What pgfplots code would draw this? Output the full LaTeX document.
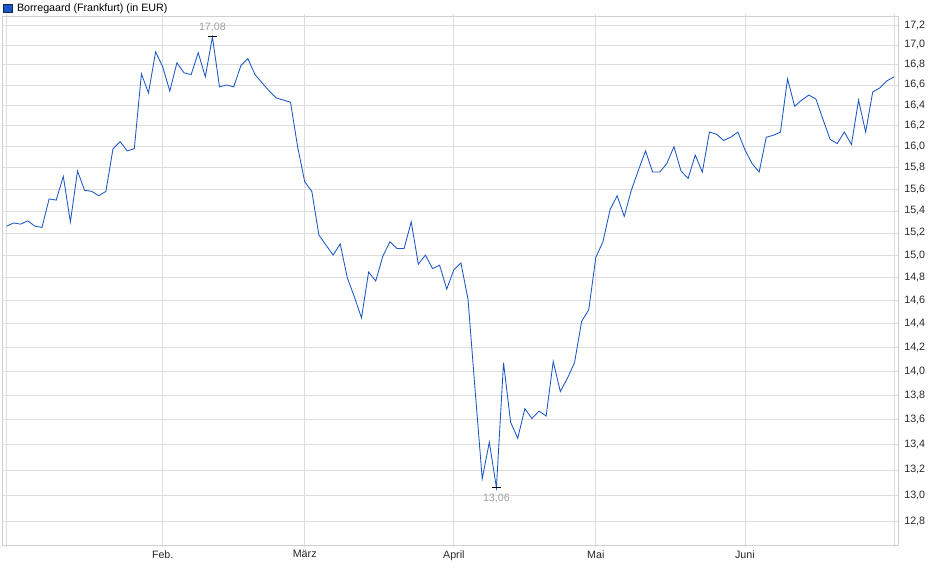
\documentclass[border=0pt]{standalone}
\usepackage{pgfplots}
\pgfplotsset{compat=1.18}
\usepackage{pgfplotstable}
\usepackage{fontspec}
\setmainfont{Liberation Sans}

\definecolor{kurs}{RGB}{26,86,196}
\definecolor{gitter}{RGB}{221,221,221}
\definecolor{rahmen}{RGB}{208,208,208}
\definecolor{anno}{RGB}{160,160,160}
\definecolor{schrift}{RGB}{40,40,40}

% Handelstage ab Jan. (Index), Schlusskurs in EUR
\pgfplotstableread{
i v
0 15.26
1 15.29
2 15.28
3 15.31
4 15.26
5 15.25
6 15.51
7 15.50
8 15.72
9 15.30
10 15.77
11 15.59
12 15.58
13 15.54
14 15.58
15 15.98
16 16.05
17 15.96
18 15.98
19 16.71
20 16.52
21 16.93
22 16.78
23 16.54
24 16.82
25 16.72
26 16.70
27 16.92
28 16.68
29 17.08
30 16.58
31 16.60
32 16.58
33 16.79
34 16.86
35 16.70
36 16.62
37 16.54
38 16.47
39 16.45
40 16.43
41 16.00
42 15.67
43 15.58
44 15.18
45 15.09
46 15.00
47 15.10
48 14.80
49 14.63
50 14.45
51 14.85
52 14.77
53 14.99
54 15.12
55 15.06
56 15.06
57 15.30
58 14.92
59 15.00
60 14.88
61 14.91
62 14.70
63 14.87
64 14.93
65 14.61
66 13.84
67 13.13
68 13.42
69 13.06
70 14.07
71 13.58
72 13.45
73 13.69
74 13.61
75 13.67
76 13.63
77 14.08
78 13.83
79 13.94
80 14.07
81 14.42
82 14.52
83 14.98
84 15.12
85 15.41
86 15.54
87 15.35
88 15.59
89 15.78
90 15.96
91 15.76
92 15.76
93 15.84
94 16.00
95 15.77
96 15.70
97 15.92
98 15.76
99 16.14
100 16.12
101 16.06
102 16.09
103 16.14
104 15.97
105 15.84
106 15.76
107 16.09
108 16.11
109 16.14
110 16.66
111 16.39
112 16.45
113 16.50
114 16.46
115 16.26
116 16.07
117 16.03
118 16.14
119 16.02
120 16.45
121 16.14
122 16.53
123 16.57
124 16.64
125 16.68
}\kurstab

\begin{document}
\begin{tikzpicture}
    \useasboundingbox (0pt,0pt) rectangle (940pt,579pt);
    \begin{axis}[
        at={(2.7pt,34pt)}, anchor=south west,
        scale only axis,
        width=895.6pt, height=528.7pt,
        font=\fontsize{10.7}{13}\selectfont,
        ymode=log,
        xmin=-0.535, xmax=125.6,
        ymin=12.623, ymax=17.292,
        xtick={0,22,42,63,83,104,125},
        xticklabels={,Feb.,März,April,Mai,Juni,},
        ytick={12.8,13,13.2,13.4,13.6,13.8,14,14.2,14.4,14.6,14.8,15,15.2,15.4,15.6,15.8,16,16.2,16.4,16.6,16.8,17,17.2},
        yticklabels={{12,8},{13,0},{13,2},{13,4},{13,6},{13,8},{14,0},{14,2},{14,4},{14,6},{14,8},{15,0},{15,2},{15,4},{15,6},{15,8},{16,0},{16,2},{16,4},{16,6},{16,8},{17,0},{17,2}},
        yticklabel pos=right,
        tick label style={text=schrift},
        yticklabel style={xshift=0.5pt},
        grid=major,
        major grid style={draw=gitter, line width=0.75pt},
        axis line style={draw=rahmen, line width=0.75pt},
        tick align=outside,
        major tick length=2pt,
        xtick style={draw=gitter, line width=0.75pt},
        ytick style={draw=none},
        legend style={at={(0,1)}, anchor=south west, yshift=1pt,
            draw=none, fill=none, inner sep=0pt,
            font=\fontsize{10.7}{13}\selectfont,
            /tikz/every odd column/.append style={column sep=3pt},
            /tikz/every even column/.append style={column sep=0pt}},
        legend image code/.code={
            \draw[fill=kurs, draw=kurs!45!black, line width=0.6pt] (0pt,-4.2pt) rectangle (8.6pt,4.2pt);
        },
        legend cell align=left,
    ]
        \addplot[kurs, line width=0.85pt] table[x=i, y=v] {\kurstab};
        \addlegendentry{Borregaard (Frankfurt) (in EUR)}

        % Hoch und Tief
        \addplot[forget plot, only marks, mark=-, mark size=4.2pt,
            mark options={black, line width=0.9pt},
            nodes near coords={17,08},
            every node near coord/.append style={text=anno, anchor=south, yshift=1pt}]
            coordinates {(29,17.08)};
        \addplot[forget plot, only marks, mark=-, mark size=4.2pt,
            mark options={black, line width=0.9pt},
            nodes near coords={13,06},
            every node near coord/.append style={text=anno, anchor=north, yshift=-2.5pt}]
            coordinates {(69,13.06)};
    \end{axis}
\end{tikzpicture}
\end{document}
